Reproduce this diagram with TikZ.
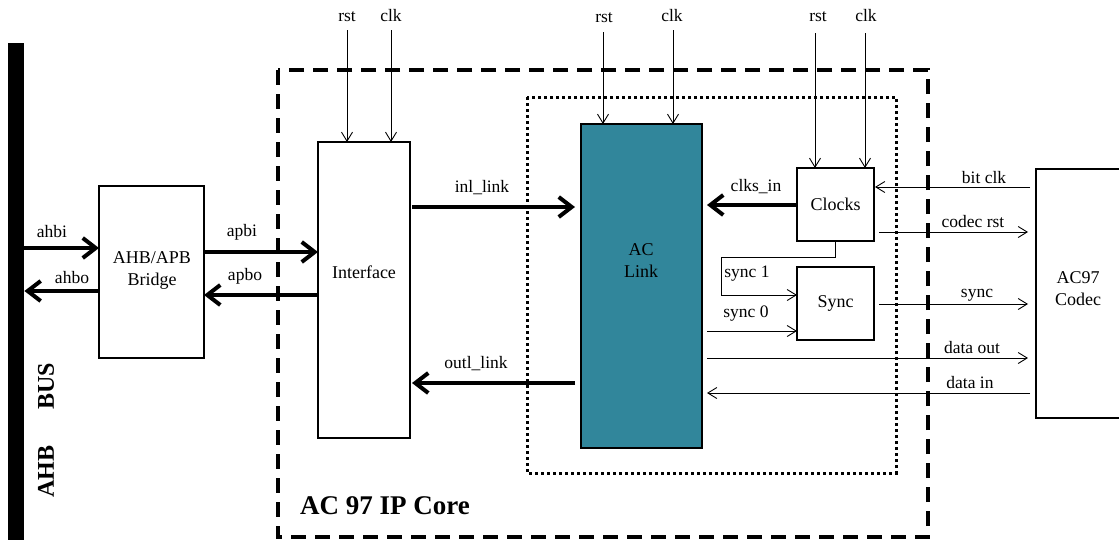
\documentclass[tikz,border=0pt]{standalone}
\usepackage{fontspec}
\setmainfont{Liberation Serif}
\usetikzlibrary{arrows.meta,calc}

\definecolor{linkteal}{RGB}{49,134,155}

\begin{document}
\begin{tikzpicture}[x=1pt,y=-1pt,
  blk/.style={draw,line width=2.6pt,anchor=north west,inner sep=0pt,outer sep=0pt},
  txt/.style={font=\fontsize{18}{22}\selectfont,align=center,inner sep=0pt},
  lbl/.style={font=\fontsize{17.5}{20}\selectfont,inner sep=0pt},
  fat/.style={line width=4pt,-{Straight Barb[length=13pt,width=20pt]}},
  thin/.style={line width=0.9pt,-{Straight Barb[length=9pt,width=11pt]}}
]
\useasboundingbox (0,0) rectangle (1119,539);

% AHB bus bar
\node[fill=black,anchor=north west,inner sep=0pt,minimum width=16pt,minimum height=502pt] (bus) at (8,43) {};
\node[font=\bfseries\fontsize{24}{28}\selectfont,rotate=90,inner sep=0pt] (busname) at (46,430) {AHB\hspace{36pt}BUS};

% IP core outline and AC-link region
\draw[line width=3.5pt,dash pattern=on 15pt off 9pt] (278,70) rectangle (928,537);
\draw[line width=3pt,dash pattern=on 3pt off 3pt] (527,97) rectangle (896,473);
\node[font=\bfseries\fontsize{27}{30}\selectfont,anchor=west,inner sep=0pt] (corename) at (300,506) {AC 97 IP Core};

% Blocks
\node[blk,minimum width=105pt,minimum height=172pt] (bridge) at (99,186) {};
\node[txt] (bridgetxt) at (152,270) {AHB/APB\\Bridge};
\node[blk,minimum width=92pt,minimum height=296pt] (iface) at (318,142) {};
\node[txt] (ifacetxt) at (364,272) {Interface};
\node[blk,fill=linkteal,minimum width=121pt,minimum height=324pt] (link) at (581,124) {};
\node[txt] (linktxt) at (641,261) {AC\\Link};
\node[blk,minimum width=77pt,minimum height=73pt] (clocks) at (797,168) {};
\node[txt] (clockstxt) at (clocks.center) {Clocks};
\node[blk,minimum width=77pt,minimum height=73pt] (sync) at (797,267) {};
\node[txt] (synctxt) at (sync.center) {Sync};
\node[blk,minimum width=86pt,minimum height=249pt] (codec) at (1036,169) {};
\node[txt] (codectxt) at (1078,289) {AC97\\Codec};

% Bus <-> bridge
\draw[fat] (bus.east |- 0,248) -- (bridge.west |- 0,248);
\draw[fat] (bridge.west |- 0,291) -- (bus.east |- 0,291);
\node[lbl] (ahbi) at (52,232) {ahbi};
\node[lbl] (ahbo) at (72,278) {ahbo};

% Bridge <-> interface
\draw[fat] (bridge.east |- 0,252) -- (iface.west |- 0,252);
\draw[fat] (iface.west |- 0,295) -- (bridge.east |- 0,295);
\node[lbl] (apbi) at (242,232) {apbi};
\node[lbl] (apbo) at (245,276) {apbo};

% Interface <-> AC link
\draw[fat] ($(iface.east |- 0,207)+(2,0)$) -- ($(link.west |- 0,207)+(-6,0)$);
\draw[fat] ($(link.west |- 0,383)+(-6,0)$) -- ($(iface.east |- 0,383)+(2,0)$);
\node[lbl] (inl) at (482,188) {inl\_link};
\node[lbl] (outl) at (476,364) {outl\_link};

% Reset and clock inputs
\foreach \nm/\x/\tgt/\y in {irst/347/iface/30, iclk/391/iface/30, lrst/603/link/32, lclk/673/link/30, crst/815/clocks/33, cclk/865/clocks/33}{
  \coordinate (\nm) at (\x,\y);
  \draw[thin] (\nm) -- (\nm |- \tgt.north);
}
\node[lbl] (irstl) at (347,17) {rst};
\node[lbl] (iclkl) at (391,16) {clk};
\node[lbl] (lrstl) at (604,18) {rst};
\node[lbl] (lclkl) at (672,16) {clk};
\node[lbl] (crstl) at (818,17) {rst};
\node[lbl] (cclkl) at (866,16) {clk};

% Clocks and sync to AC link
\draw[fat] (clocks.west |- 0,205) -- ($(link.east |- 0,205)+(5,0)$);
\node[lbl] (clksin) at (756,187) {clks\_in};
\draw[thin] (clocks.south) -- (clocks.south |- 0,257) -- (721,257) -- (721,295) -- (sync.west |- 0,295);
\node[lbl] (sync1) at (747,274) {sync 1};
\draw[thin] ($(link.east |- 0,331)+(5,0)$) -- (sync.west |- 0,331);
\node[lbl] (sync0) at (746,314) {sync 0};

% Codec interface
\draw[thin] ($(codec.west |- 0,187)+(-6,0)$) -- ($(clocks.east |- 0,187)+(1,0)$);
\node[lbl] (bitclk) at (984,178) {bit clk};
\draw[thin] ($(clocks.east |- 0,232)+(5,0)$) -- ($(codec.west |- 0,232)+(-8,0)$);
\node[lbl] (codecrst) at (973,222) {codec rst};
\draw[thin] ($(sync.east |- 0,304)+(5,0)$) -- ($(codec.west |- 0,304)+(-8,0)$);
\node[lbl] (syncout) at (977,295) {sync};
\draw[thin] ($(link.east |- 0,358)+(5,0)$) -- ($(codec.west |- 0,358)+(-8,0)$);
\node[lbl] (dataout) at (972,348) {data out};
\draw[thin] ($(codec.west |- 0,393)+(-6,0)$) -- ($(link.east |- 0,393)+(5,0)$);
\node[lbl] (datain) at (970,383) {data in};
\end{tikzpicture}
\end{document}
